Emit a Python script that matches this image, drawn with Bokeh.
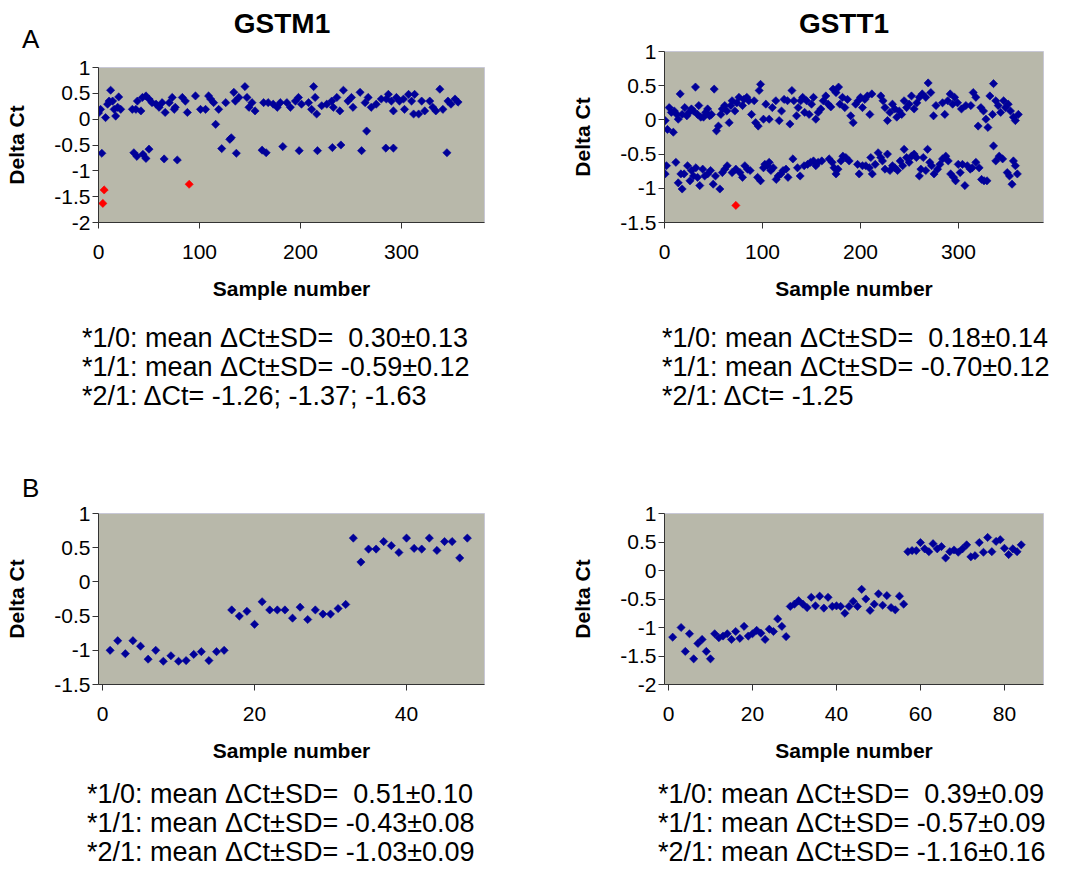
from bokeh.plotting import figure
from bokeh.layouts import column, row
from bokeh.models import Range1d, FixedTicker, CustomJSTickFormatter, ColumnDataSource, Spacer, Div
from bokeh.embed import file_html
from bokeh.resources import INLINE
import math

# ---------------- data ----------------
# Panel A, GSTM1
gstm1_10_x = [0, 2, 7, 9, 10.5, 12, 14, 15.5, 17, 19,
              20, 22, 33.5, 37, 38.5, 42, 43.5, 47, 50, 53,
              57, 60, 63, 66, 70, 73, 75, 76, 83, 86,
              88, 96, 101, 106, 109, 111, 114, 119, 126, 134,
              135.5, 139, 145, 147, 149, 152, 155, 163.5, 168, 173,
              177, 180, 186.5, 190, 195, 198, 201, 208, 211, 213,
              214.5, 216, 221, 226, 231, 232.5, 236, 239, 242.5, 247,
              250.5, 252, 259, 264, 267, 270, 275, 280, 285, 287,
              290, 292, 295, 298, 302, 303, 307, 310, 312, 313,
              317, 320, 323, 328, 331, 334, 338, 341, 346, 349,
              353, 356]
gstm1_10_y = [0.12, 0.19, 0.03, 0.29, 0.35, 0.56, 0.35, 0.19, 0.06, 0.23,
              0.43, 0.19, 0.19, 0.19, 0.35, 0.16, 0.42, 0.45, 0.39, 0.32,
              0.29, 0.23, 0.32, 0.13, 0.32, 0.42, 0.19, 0.23, 0.42, 0.35,
              0.13, 0.45, 0.19, 0.19, 0.45, 0.39, 0.32, 0.19, 0.32, 0.52,
              0.35, 0.42, 0.63, 0.42, 0.23, 0.32, 0.16, 0.32, 0.32, 0.29,
              0.23, 0.32, 0.32, 0.23, 0.35, 0.42, 0.29, 0.32, 0.19, 0.63,
              0.42, 0.10, 0.26, 0.29, 0.35, 0.23, 0.42, 0.16, 0.56, 0.35,
              0.42, 0.23, 0.52, 0.32, 0.42, 0.23, 0.29, 0.39, 0.39, 0.48,
              0.35, 0.16, 0.42, 0.35, 0.39, 0.19, 0.48, 0.35, 0.10, 0.48,
              0.10, 0.35, 0.16, 0.35, 0.23, 0.16, 0.58, 0.19, 0.35, 0.29,
              0.39, 0.33]
gstm1_11_x = [3.3, 35, 38, 44, 47, 50, 65, 78, 116, 122,
              130, 131.5, 136.5, 162, 166, 182.5, 198.7, 216.8, 231.6, 240,
              260.5, 265.5, 284.5, 292, 345]
gstm1_11_y = [-0.66, -0.65, -0.72, -0.68, -0.76, -0.58, -0.77, -0.79, -0.10, -0.57,
              -0.39, -0.36, -0.66, -0.60, -0.65, -0.53, -0.61, -0.61, -0.55, -0.50,
              -0.61, -0.23, -0.56, -0.56, -0.65]
gstm1_21_x = [89.8, 5.6, 4.3]
gstm1_21_y = [-1.26, -1.37, -1.63]

# Panel A, GSTT1
gstt1_10_x = [0.7, 3, 4.8, 7, 9, 10, 12.6, 14, 16, 18,
              20.7, 22.8, 25, 27.5, 29.6, 31.6, 33.7, 35, 37, 39.8,
              42, 44, 46, 48, 50.7, 53, 55, 57.5, 59, 61.5,
              63.6, 66, 67.7, 69, 71.8, 73.8, 76, 79.6, 81, 84,
              86, 88.8, 91.5, 93, 95.6, 96.6, 98, 101, 103.4, 106.8,
              110, 113.6, 117, 119.4, 122, 125.5, 128, 130, 132, 134.7,
              136.4, 139, 141, 143, 145, 147.6, 150, 152, 154.4, 156.8,
              159.5, 162, 164.6, 167, 169.7, 172, 175, 177.6, 179, 181.6,
              184, 186.7, 190, 192.5, 195, 197.6, 200, 202, 204.4, 207,
              209.5, 211.6, 220.7, 223, 225, 227.5, 230, 232.6, 235, 237,
              239.5, 242, 244.5, 247, 249.6, 252, 254.7, 257.5, 260, 263,
              266.6, 269, 271.7, 274.5, 277, 283.7, 286, 289, 291.5, 294,
              296, 299, 303, 307.5, 312.6, 315, 317.7, 320, 322.8, 325.5,
              328, 330, 332, 334.7, 335.7, 338, 340.5, 343, 346, 348,
              350.7, 353, 356, 358, 361]
gstt1_10_y = [-0.01, -0.14, 0.18, 0.11, -0.18, 0.13, 0.08, 0.01, 0.38, 0.08,
              0.18, 0.06, 0.11, 0.16, 0.13, 0.48, 0.08, 0.21, 0.04, 0.04,
              0.11, 0.16, 0.06, 0.08, 0.45, -0.16, -0.09, 0.08, 0.16, 0.21,
              0.13, -0.04, 0.21, 0.28, 0.13, 0.25, 0.33, 0.21, 0.30, 0.33,
              0.28, 0.08, 0.28, -0.04, -0.09, 0.43, 0.52, 0.01, 0.23, 0.01,
              0.18, 0.28, -0.01, 0.13, 0.30, 0.28, -0.06, 0.43, 0.28, 0.06,
              0.18, 0.28, 0.33, 0.11, 0.28, 0.08, 0.23, 0.33, 0.01, 0.11,
              0.16, 0.28, 0.35, 0.23, 0.19, 0.45, 0.40, 0.48, 0.23, 0.33,
              0.18, 0.30, 0.06, -0.04, 0.23, 0.28, 0.33, 0.18, 0.30, 0.35,
              0.08, 0.38, 0.35, 0.28, 0.18, -0.01, 0.11, 0.23, 0.16, 0.04,
              0.13, 0.08, 0.28, 0.18, 0.23, 0.35, 0.16, 0.25, 0.33, 0.38,
              0.33, 0.54, 0.40, 0.06, 0.21, 0.25, 0.08, 0.28, 0.38, 0.23,
              0.33, 0.25, 0.16, 0.21, 0.21, 0.40, 0.33, -0.09, 0.18, 0.13,
              0.01, -0.11, 0.35, 0.08, 0.53, 0.28, 0.21, 0.11, 0.28, 0.18,
              0.23, 0.13, 0.04, -0.01, 0.08]
gstt1_11_x = [0.7, 2, 11.6, 14, 16.7, 18, 20, 23.5, 26, 27.5,
              29.6, 32, 33.7, 36, 39, 41, 44, 47, 49.7, 52,
              56.5, 59, 61.5, 64, 69, 72.8, 77, 79.6, 82, 84.7,
              87.4, 95, 98, 101, 102.4, 105, 106.8, 108.5, 111, 114,
              116, 118.7, 121, 124, 126, 131, 135.7, 138.4, 142.5, 146,
              149, 152, 154.4, 156.8, 160.5, 168, 171, 173, 175, 177,
              180, 182, 185, 188.4, 197, 198.6, 202, 205.4, 209, 210.5,
              212, 215, 218, 220.7, 222.4, 225, 227.5, 230, 232.6, 235,
              237.8, 240.5, 243, 244.5, 247, 249.6, 252, 254.7, 257, 260,
              261.6, 264, 266.6, 268.4, 270.7, 272.5, 275, 278.6, 281, 283.7,
              287, 289.5, 292, 295, 297, 299.7, 301.7, 304, 306.5, 309,
              312, 314, 317.7, 321, 323.5, 326, 329, 335.7, 338, 341.5,
              345, 349.7, 352, 354.6, 356, 358, 360]
gstt1_11_y = [-0.79, -0.67, -0.62, -0.92, -0.79, -1.01, -0.79, -0.67, -0.89, -0.74,
              -0.82, -0.70, -0.84, -0.96, -0.72, -0.82, -0.79, -0.74, -0.94, -0.82,
              -1.01, -0.77, -0.72, -0.67, -0.77, -0.72, -0.77, -0.84, -0.67, -0.72,
              -0.74, -0.84, -0.89, -0.70, -0.65, -0.67, -0.62, -0.74, -0.70, -0.87,
              -0.82, -0.79, -0.74, -0.72, -0.84, -0.57, -0.70, -0.82, -0.67, -0.65,
              -0.62, -0.60, -0.67, -0.62, -0.60, -0.57, -0.62, -0.70, -0.79, -0.72,
              -0.60, -0.53, -0.55, -0.60, -0.65, -0.79, -0.67, -0.67, -0.70, -0.55,
              -0.79, -0.65, -0.48, -0.55, -0.60, -0.72, -0.50, -0.74, -0.67, -0.70,
              -0.74, -0.60, -0.67, -0.43, -0.55, -0.62, -0.53, -0.50, -0.55, -0.82,
              -0.72, -0.55, -0.74, -0.43, -0.62, -0.67, -0.79, -0.72, -0.65, -0.57,
              -0.53, -0.60, -0.79, -0.84, -0.89, -0.65, -0.77, -0.65, -0.96, -0.67,
              -0.72, -0.70, -0.62, -0.70, -0.87, -0.89, -0.89, -0.38, -0.60, -0.53,
              -0.57, -0.77, -0.82, -0.94, -0.60, -0.67, -0.79]
gstt1_21_x = [72.8]
gstt1_21_y = [-1.25]

# Panel B, GSTM1 (controls)
b_gstm1_x = [1, 2, 3, 4, 5, 6, 7, 8, 9, 10, 11, 12, 13, 14, 15, 16,
             17, 18, 19, 20, 21, 22, 23, 24, 25, 26, 27, 28, 29, 30, 31, 32,
             33, 34, 35, 36, 37, 38, 39, 40, 41, 42, 43, 44, 45, 46, 47, 48]
b_gstm1_y = [-1.00, -0.86, -1.05, -0.86, -0.94, -1.13, -1.00, -1.16, -1.08, -1.16, -1.15, -1.06, -1.02, -1.15, -1.02, -1.00,
             -0.41, -0.50, -0.43, -0.62, -0.29, -0.41, -0.41, -0.41, -0.53, -0.37, -0.55, -0.41, -0.47, -0.47, -0.39, -0.33,
             0.64, 0.29, 0.48, 0.48, 0.59, 0.53, 0.43, 0.64, 0.49, 0.48, 0.64, 0.46, 0.59, 0.59, 0.35, 0.64]

# Panel B, GSTT1 (controls)
b_gstt1_x = [1, 3, 4, 5, 6, 7, 8, 9, 10, 11, 12, 13, 14, 15, 16, 17, 18, 19, 20,
             21, 22, 23, 24, 25, 26, 27, 28,
             29, 30, 31, 32, 33, 34, 35, 36, 37, 38, 39, 40, 41, 42, 43, 44, 45, 46,
             47, 48, 49, 50, 51, 52, 53, 54, 55, 56,
             57, 58, 59, 60, 61, 62, 63, 64, 65, 66, 67, 68, 69, 70, 71, 72, 73, 74,
             75, 76, 77, 78, 79, 80, 81, 82, 83, 84]
b_gstt1_y = [-1.17, -1.00, -1.42, -1.11, -1.55, -1.28, -1.21, -1.42, -1.55, -1.11, -1.18, -1.15, -1.11, -1.21, -1.07, -1.19, -0.98, -1.15, -1.11,
             -1.05, -1.10, -1.21, -1.03, -1.07, -0.85, -0.98, -1.16,
             -0.63, -0.59, -0.53, -0.59, -0.65, -0.47, -0.62, -0.45, -0.66, -0.47, -0.63, -0.62, -0.63, -0.75, -0.63, -0.54, -0.63, -0.33,
             -0.50, -0.70, -0.59, -0.41, -0.61, -0.44, -0.65, -0.69, -0.45, -0.59,
             0.33, 0.35, 0.35, 0.49, 0.38, 0.33, 0.47, 0.38, 0.42, 0.22, 0.33, 0.36, 0.32, 0.38, 0.45, 0.24, 0.26, 0.49,
             0.32, 0.58, 0.33, 0.51, 0.54, 0.39, 0.28, 0.38, 0.33, 0.45]

xticks_a = [0, 100, 200, 300]
xticks_b_gstm1 = [0, 20, 40]
xticks_b_gstt1 = [0, 20, 40, 60, 80]
yticks_m2 = [-2, -1.5, -1, -0.5, 0, 0.5, 1]
yticks_m15 = [-1.5, -1, -0.5, 0, 0.5, 1]

text_a_gstm1 = ["*1/0: mean \u0394Ct\u00b1SD=  0.30\u00b10.13",
                "*1/1: mean \u0394Ct\u00b1SD= -0.59\u00b10.12",
                "*2/1: \u0394Ct= -1.26; -1.37; -1.63"]
text_a_gstt1 = ["*1/0: mean \u0394Ct\u00b1SD=  0.18\u00b10.14",
                "*1/1: mean \u0394Ct\u00b1SD= -0.70\u00b10.12",
                "*2/1: \u0394Ct= -1.25"]
text_b_gstm1 = ["*1/0: mean \u0394Ct\u00b1SD=  0.51\u00b10.10",
                "*1/1: mean \u0394Ct\u00b1SD= -0.43\u00b10.08",
                "*2/1: mean \u0394Ct\u00b1SD= -1.03\u00b10.09"]
text_b_gstt1 = ["*1/0: mean \u0394Ct\u00b1SD=  0.39\u00b10.09",
                "*1/1: mean \u0394Ct\u00b1SD= -0.57\u00b10.09",
                "*2/1: mean \u0394Ct\u00b1SD= -1.16\u00b10.16"]

# ---------------- styling ----------------
FONT = "Liberation Sans"
BLUE = "#000099"
RED = "#ff0000"
BG = "#b8b8aa"
AXIS = "#333333"


def make_fig(W, H, L, R, T, B, xr, yr, xt, yt):
    p = figure(width=W, height=H, min_border_left=L, min_border_right=R,
               min_border_top=T, min_border_bottom=B,
               x_range=Range1d(*xr), y_range=Range1d(*yr),
               output_backend="svg", toolbar_location=None, tools="")
    p.background_fill_color = BG
    p.border_fill_color = "white"
    p.outline_line_color = "#c8c8d6"
    p.grid.visible = False
    p.xaxis.ticker = FixedTicker(ticks=xt)
    p.yaxis.ticker = FixedTicker(ticks=yt)
    p.yaxis.formatter = CustomJSTickFormatter(code="return String(Math.round(tick*10)/10);")
    for ax in (p.xaxis[0], p.yaxis[0]):
        ax.axis_line_color = AXIS
        ax.major_tick_line_color = AXIS
        ax.major_tick_out = 6
        ax.major_tick_in = 0
        ax.minor_tick_line_color = None
        ax.major_label_text_font = FONT
        ax.major_label_text_font_size = "21px"
        ax.major_label_text_color = "black"
        ax.axis_label_text_font = FONT
        ax.axis_label_text_font_style = "bold"
        ax.axis_label_text_font_size = "21px"
        ax.axis_label_text_color = "black"
    p.xaxis.axis_label = "Sample number"
    p.yaxis.axis_label = "Delta Ct"
    p.xaxis.major_label_standoff = 16
    p.yaxis.major_label_standoff = 2
    p.xaxis.axis_label_standoff = 15
    p.yaxis.axis_label_standoff = 23
    return p


def pts(p, xs, ys, color):
    src = ColumnDataSource(dict(x=xs, y=ys))
    p.scatter("x", "y", source=src, marker="square", size=5.8, angle=math.pi / 4,
              fill_color=color, line_color=color, line_width=0.6)


def text_div(W, H, items):
    # items: (x, baseline_y, text, size_px, bold, align)
    parts = []
    for x, yb, t, size, bold, align in items:
        top = yb - 0.8465 * size
        if align == "center":
            left, width, ta = x - 300, 600, "center"
        else:
            left, width, ta = x, W - x + 200, "left"
        parts.append(
            '<div style="position:absolute;left:%.1fpx;top:%.1fpx;width:%dpx;'
            'font-size:%dpx;line-height:1;white-space:pre;text-align:%s;font-weight:%s;">%s</div>'
            % (left, top, width, size, ta, "bold" if bold else "normal", t))
    html = ('<div style="position:relative;width:%dpx;height:%dpx;overflow:visible;'
            'font-family:\'Liberation Sans\',Arial,sans-serif;color:black;">%s</div>'
            % (W, H, "".join(parts)))
    return Div(text=html, width=W, height=H, margin=0)


def lines_div(W, H, x, y0, lines, step=29):
    return text_div(W, H, [(x, y0 + i * step, t, 27, False, "left") for i, t in enumerate(lines)])


LW, RW = 544, 520

# ---- left column ----
hdrL = text_div(LW, 50, [(282, 34, "GSTM1", 28, True, "center"),
                         (22, 48, "A", 26, False, "left")])

f1 = make_fig(LW, 262, 98, 60, 17, 90, (0, 382.2), (-2, 1), xticks_a, yticks_m2)
pts(f1, gstm1_10_x, gstm1_10_y, BLUE)
pts(f1, gstm1_11_x, gstm1_11_y, BLUE)
pts(f1, gstm1_21_x, gstm1_21_y, RED)

txtAL = lines_div(LW, 108, 82, 36, text_a_gstm1)

hdrBL = text_div(LW, 80, [(22, 77, "B", 26, False, "left")])

f3 = make_fig(LW, 274, 98, 60, 13, 90, (-0.53, 50.26), (-1.5, 1), xticks_b_gstm1, yticks_m15)
pts(f3, b_gstm1_x, b_gstm1_y, BLUE)

txtBL = lines_div(LW, 106, 87, 30, text_b_gstm1)

# ---- right column ----
hdrR = text_div(RW, 38, [(300, 34, "GSTT1", 28, True, "center")])

f2 = make_fig(RW, 274, 120, 21, 13, 90, (0, 386.7), (-1.5, 1), xticks_a, yticks_m15)
pts(f2, gstt1_10_x, gstt1_10_y, BLUE)
pts(f2, gstt1_11_x, gstt1_11_y, BLUE)
pts(f2, gstt1_21_x, gstt1_21_y, RED)

txtAR = lines_div(RW, 108, 118, 36, text_a_gstt1)

gapR = Spacer(width=RW, height=80)

f4 = make_fig(RW, 274, 120, 21, 13, 90, (-0.95, 89.3), (-2, 1), xticks_b_gstt1, yticks_m2)
pts(f4, b_gstt1_x, b_gstt1_y, BLUE)

txtBR = lines_div(RW, 106, 114, 30, text_b_gstt1)

layout = row(column(hdrL, f1, txtAL, hdrBL, f3, txtBL),
             column(hdrR, f2, txtAR, gapR, f4, txtBR))
open("out.html", "w").write(file_html(layout, INLINE))
